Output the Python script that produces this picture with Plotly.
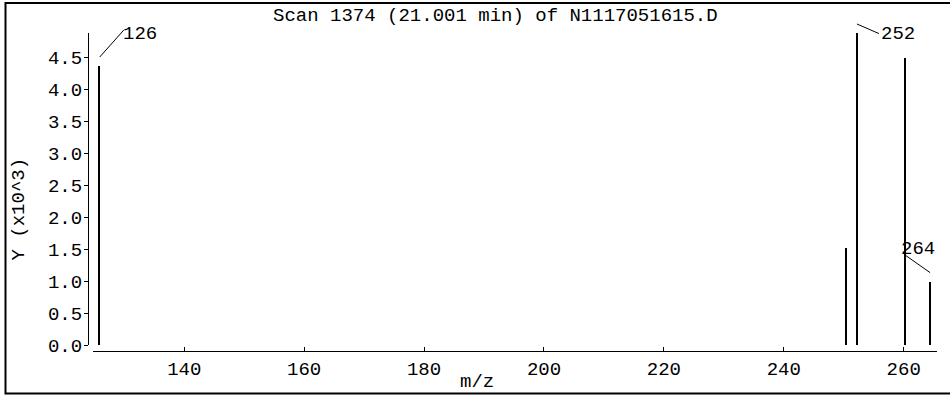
import plotly.graph_objects as go

# ---- data ----
mz = [125.9, 250.4, 252.2, 260.3, 264.4]
abundance = [4360, 1510, 4876, 4485, 990]
labelled_mz = [125.9, 252.2, 264.4]
labelled_abund = [4360, 4876, 990]
labelled_text = ["126", "252", "264"]
x_ticks = [140, 160, 180, 200, 220, 240, 260]
y_ticks = [0.0, 0.5, 1.0, 1.5, 2.0, 2.5, 3.0, 3.5, 4.0, 4.5]
title_text = "Scan 1374 (21.001 min) of N1117051615.D"
x_title = "m/z"
y_title = "Y (x10^3)"

FONT = "Liberation Mono"
FS = 19
W, H = 950, 396
ML, MR, MT, MB = 88, 13, 33, 45
PW = W - ML - MR
PH = H - MT - MB


def px(xpix):
    return (xpix - ML) / PW


def py(ypix):
    return (H - MB - ypix) / PH


y_vals = [a / 1000 for a in abundance]

fig = go.Figure()
fig.add_trace(go.Bar(
    x=mz, y=y_vals, width=0.16,
    marker=dict(color="black", line=dict(width=0)),
    showlegend=False, hoverinfo="x+y",
))

# label text and leader lines (pixel offsets relative to peak tops)
text_shift = [(40.3, 32.3), (40.7, -1.2), (-11.7, 32.2)]
leader = [(25, -28), (23, 10), (-27, -19)]
annotations = []
for m, a, t, (sx, sy), (ax, ay) in zip(labelled_mz, labelled_abund, labelled_text, text_shift, leader):
    annotations.append(dict(
        x=m, y=a / 1000, xref="x", yref="y", text=t, showarrow=False,
        xshift=sx, yshift=sy, xanchor="center", yanchor="middle",
        font=dict(family=FONT, size=FS, color="black"),
    ))
    annotations.append(dict(
        x=m, y=a / 1000, xref="x", yref="y", text=" ", showarrow=True,
        arrowhead=0, arrowwidth=1, arrowcolor="black", ax=ax, ay=ay,
        yshift=9, standoff=0, startstandoff=0,
        font=dict(size=1), borderpad=0,
    ))

annotations.append(dict(
    x=px(495), y=py(16), xref="paper", yref="paper", text=title_text,
    showarrow=False, xanchor="center", yanchor="middle",
    font=dict(family=FONT, size=FS, color="black"),
))
annotations.append(dict(
    x=px(18.5), y=py(209), xref="paper", yref="paper", text=y_title,
    showarrow=False, xanchor="center", yanchor="middle", textangle=-90,
    font=dict(family=FONT, size=FS, color="black"),
))
annotations.append(dict(
    x=px(477), y=py(382), xref="paper", yref="paper", text=x_title,
    showarrow=False, xanchor="center", yanchor="middle",
    font=dict(family=FONT, size=FS, color="black"),
))

fig.update_layout(
    width=W, height=H,
    margin=dict(l=ML, r=MR, t=MT, b=MB, pad=0),
    paper_bgcolor="white", plot_bgcolor="white",
    font=dict(family=FONT, size=FS, color="black"),
    bargap=0,
    annotations=annotations,
    shapes=[dict(
        type="rect", xref="paper", yref="paper",
        x0=px(5.5), x1=px(952), y0=py(393.5), y1=py(3),
        line=dict(color="black", width=2), fillcolor="rgba(0,0,0,0)",
    )],
    xaxis=dict(
        domain=[px(93.3), 1], range=[124.83, 265.55],
        anchor="free", position=0,
        showline=True, linecolor="black", linewidth=1,
        showgrid=False, zeroline=False,
        ticks="inside", ticklen=4, tickwidth=1, tickcolor="black",
        tickvals=x_ticks, ticktext=[str(v) for v in x_ticks],
        tickfont=dict(family=FONT, size=FS, color="black"),
        ticklabelstandoff=0,
    ),
    yaxis=dict(
        domain=[py(345), 1], range=[0, max(y_vals)],
        anchor="free", position=0,
        showline=True, linecolor="black", linewidth=1,
        showgrid=False, zeroline=False,
        ticks="outside", ticklen=4, tickwidth=1, tickcolor="black",
        tickvals=y_ticks, ticktext=[f"{v:.1f}" for v in y_ticks],
        tickfont=dict(family=FONT, size=FS, color="black"),
        ticklabelstandoff=-2,
    ),
)

fig.write_html("out.html", config={"displayModeBar": False},
               post_script="document.body.style.margin='0';")
